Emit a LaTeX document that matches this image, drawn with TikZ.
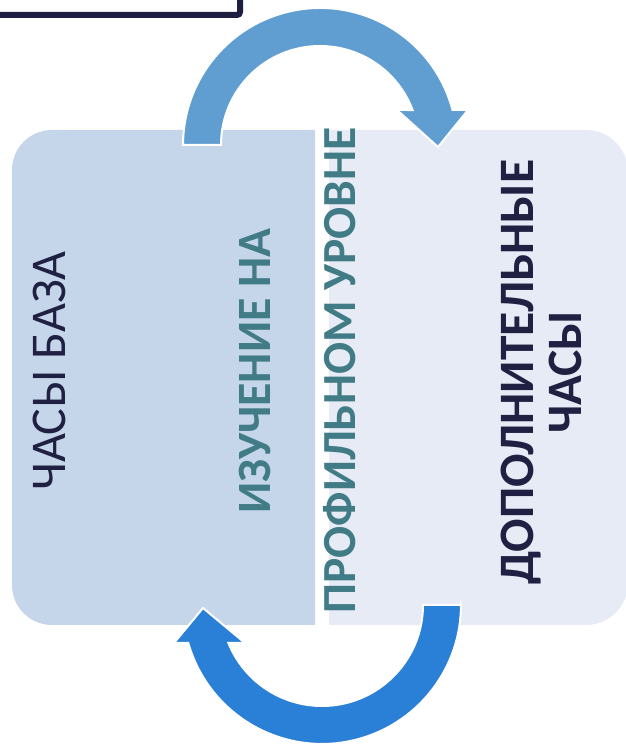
\documentclass[tikz,border=0pt]{standalone}
\usepackage{fontspec}
\setmainfont{Carlito}
\definecolor{navy}{HTML}{1E1F40}
\definecolor{leftfill}{HTML}{C5D5EA}
\definecolor{rightfill}{HTML}{E7EBF6}
\definecolor{arrowtop}{HTML}{609ED2}
\definecolor{arrowbot}{HTML}{2A7FD6}
\definecolor{tealtxt}{HTML}{417C86}
\definecolor{darktxt}{HTML}{1F2042}
\tikzset{
  blockarrow/.style={draw=white, line width=2pt, line join=miter},
  vtext/.style={rotate=90, anchor=base, inner sep=0pt, align=center},
}
\begin{document}
\begin{tikzpicture}[x=1pt,y=1pt]
\useasboundingbox (0,0) rectangle (626,745);
\clip (0,0) rectangle (626,745);
% top-left frame
\draw[navy, line width=6pt, rounded corners=3pt] (-20,770) rectangle (240,730);
% left panel
\begin{scope}
  \clip (0,0) rectangle (315,745);
  \fill[leftfill, rounded corners=40pt] (12,120) rectangle (380,615);
\end{scope}
% right panel
\begin{scope}
  \clip (329,0) rectangle (700,745);
  \fill[rightfill, rounded corners=42pt] (280,120) rectangle (628,615);
\end{scope}
% top arrow
\path[blockarrow, fill=arrowtop]
  (452.5,635) arc[start angle=14.8, end angle=180, radius=137]
  -- (221,600) arc[start angle=180, end angle=20.7, radius=99]
  -- (397,635) -- (438,598) -- (468,635) -- cycle;
% bottom arrow
\path[blockarrow, fill=arrowbot]
  (461,140) -- (423,140) arc[start angle=0, end angle=-157.9, radius=101]
  -- (245,102) -- (203,137) -- (174,102) -- (188.3,102)
  arc[start angle=-164.1, end angle=0, radius=139] -- cycle;
% texts
\node[vtext, text=darktxt, font=\fontsize{50}{60}\selectfont] (base) at (65,374) {ЧАСЫ БАЗА};
\node[vtext, text=tealtxt, font=\fontsize{47.8}{56}\selectfont\bfseries] (study) at (270,374) {ИЗУЧЕНИЕ НА};
\node[vtext, text=tealtxt, font=\fontsize{47.5}{56}\selectfont\bfseries] (prof) at (355,374.5) {ПРОФИЛЬНОМ УРОВНЕ};
\node[rotate=90, inner sep=0pt, align=center, text=darktxt, font=\fontsize{49.5}{48}\selectfont\bfseries] (extra) at (541,373) {ДОПОЛНИТЕЛЬНЫЕ\\ЧАСЫ};
\end{tikzpicture}
\end{document}
